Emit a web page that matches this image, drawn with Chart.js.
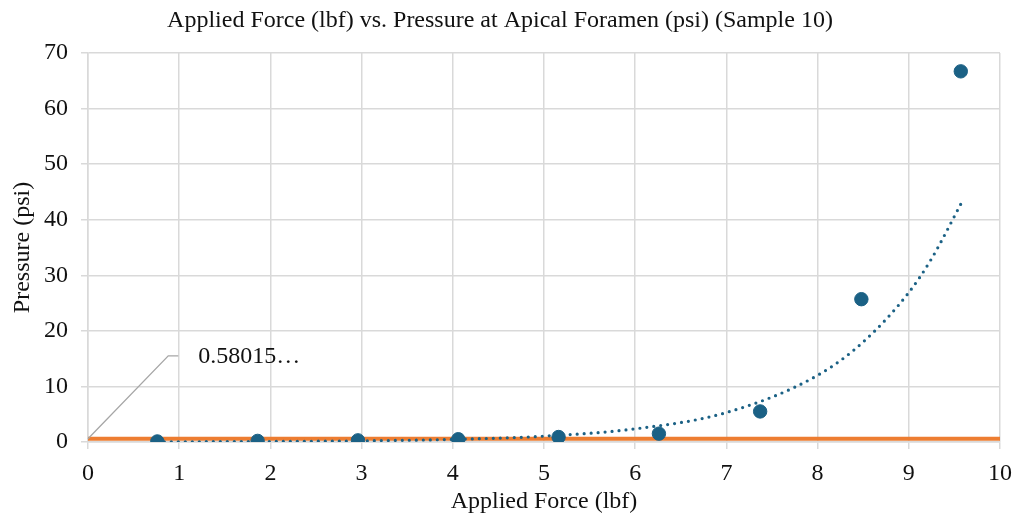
<!DOCTYPE html>
<html>
<head>
<meta charset="utf-8">
<script src="https://cdn.jsdelivr.net/npm/chart.js@4/dist/chart.umd.min.js"></script>
<style>
html,body{margin:0;padding:0;background:#fff;}
#wrap{width:1014px;height:516px;}
</style>
</head>
<body>
<div id="wrap"><canvas id="scatterChart"></canvas></div>
<script>
// measured points
const forceLbf=[0.76,1.86,2.96,4.06,5.16,6.26,7.37,8.48,9.57];
const pressurePsi=[0.1,0.2,0.3,0.5,0.9,1.5,5.5,25.7,66.7];
// dotted trendline
const trendX=[0.76,2,3,4,5,6,7,8,8.5,9,9.25,9.57];
const trendY=[0.03,0.09,0.21,0.47,1.05,2.37,5.3,12.0,18.0,26.9,33.0,42.8];
// orange reference line
const refX=[0,10];
const refY=[0.58015,0.58015];
const refLabel='0.58015\u2026';
const xTicks=[0,1,2,3,4,5,6,7,8,9,10];
const yTicks=[0,10,20,30,40,50,60,70];

const serif="'Liberation Serif','Times New Roman',serif";
const blue='#1b6185';
const txt='#111111';

const calloutPlugin={
    id:'callout',
    afterDatasetsDraw(chart){
        const c=chart.ctx,xs=chart.scales.x,ys=chart.scales.y;
        const x0=xs.getPixelForValue(refX[0]),y0=ys.getPixelForValue(refY[0]);
        const x1=xs.getPixelForValue(0.88),y1=ys.getPixelForValue(15.5);
        const x2=xs.getPixelForValue(0.99);
        c.save();
        c.strokeStyle='#a6a6a6';
        c.lineWidth=1.3;
        c.beginPath();
        c.moveTo(x0,y0);c.lineTo(x1,y1);c.lineTo(x2,y1);
        c.stroke();
        c.fillStyle=txt;
        c.font='24px '+serif;
        c.textBaseline='middle';
        c.fillText(refLabel,x2+20,y1+1);
        c.restore();
    }
};

const ctx=document.getElementById('scatterChart').getContext('2d');
const scatterChart=new Chart(ctx,{
    type:'scatter',
    data:{
        datasets:[{
            label:'Reference',
            data:refX.map((x,i)=>({x:x,y:refY[i]})),
            showLine:true,
            borderColor:'#ed7d31',
            borderWidth:4,
            pointRadius:0,
            order:3
        },{
            label:'Trend',
            data:trendX.map((x,i)=>({x:x,y:trendY[i]})),
            showLine:true,
            borderColor:blue,
            borderWidth:3.2,
            borderDash:[0,7],
            borderCapStyle:'round',
            cubicInterpolationMode:'monotone',
            pointRadius:0,
            order:2
        },{
            label:'Pressure',
            data:forceLbf.map((x,i)=>({x:x,y:pressurePsi[i]})),
            backgroundColor:blue,
            borderColor:blue,
            pointRadius:6.7,
            pointHoverRadius:6.7,
            order:1
        }]
    },
    options:{
        responsive:true,
        maintainAspectRatio:false,
        animation:false,
        layout:{padding:{left:0,right:14,top:0,bottom:0}},
        plugins:{
            legend:{display:false},
            tooltip:{enabled:false},
            title:{
                display:true,
                text:'Applied Force (lbf) vs. Pressure at Apical Foramen (psi) (Sample 10)',
                color:txt,
                font:{family:serif,size:24,weight:'normal'},
                padding:{top:6,bottom:18.2}
            }
        },
        scales:{
            x:{
                type:'linear',
                min:0,max:10,
                afterBuildTicks:a=>{a.ticks=xTicks.map(v=>({value:v}));},
                afterFit:a=>{a.height=74;a.paddingRight=0;a.paddingLeft=0;},
                grid:{color:'#d9d9d9',lineWidth:1.5,tickLength:7},
                border:{color:'#d9d9d9',width:1.5},
                ticks:{color:txt,font:{family:serif,size:24},padding:10,maxRotation:0},
                title:{display:true,text:'Applied Force (lbf)',color:txt,font:{family:serif,size:24},padding:{top:0,bottom:0}}
            },
            y:{
                type:'linear',
                min:0,max:70,
                afterBuildTicks:a=>{a.ticks=yTicks.map(v=>({value:v}));},
                afterFit:a=>{a.width=88;},
                grid:{color:'#d9d9d9',lineWidth:1.5,tickLength:7},
                border:{color:'#d9d9d9',width:1.5},
                ticks:{color:txt,font:{family:serif,size:24},padding:13},
                title:{display:true,text:'Pressure (psi)',color:txt,font:{family:serif,size:24},padding:{top:8,bottom:0}}
            }
        }
    },
    plugins:[calloutPlugin]
});
</script>
</body>
</html>
